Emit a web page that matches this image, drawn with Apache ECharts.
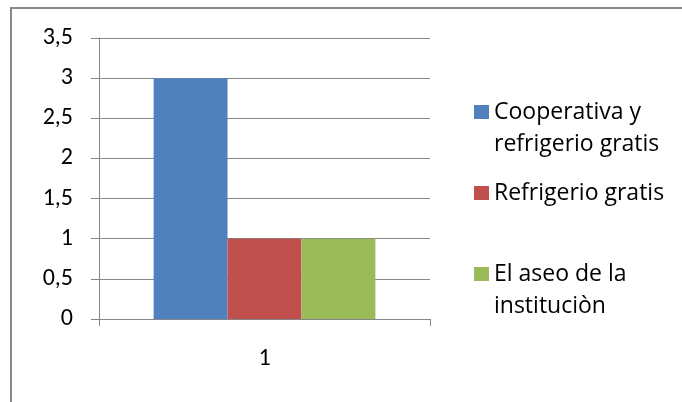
<!DOCTYPE html>
<html>
<head>
<meta charset="utf-8">
<script src="https://cdn.jsdelivr.net/npm/echarts@6/dist/echarts.min.js"></script>
<style>
  html, body { margin: 0; padding: 0; background: #fff; }
  #chart { width: 682px; height: 402px; }
</style>
</head>
<body>
<div id="chart"></div>
<script>
// datos de la gráfica
var categories = ["1"];
var seriesNames = ["Cooperativa y refrigerio gratis", "Refrigerio gratis", "El aseo de la instituciòn"];
var seriesValues = [[3], [1], [1]];
var legendLabels = ["\nCooperativa y\nrefrigerio gratis", "Refrigerio gratis", "\nEl aseo de la\ninstituciòn"];
var colors = ["#4F81BD", "#C0504D", "#9BBB59"];

var font = "Carlito, Calibri, Lato, sans-serif";
var legendFont = "'Open Sans', sans-serif";
var gray = "#868686";

var chart = echarts.init(document.getElementById("chart"));

// una leyenda por serie, para colocarlas como en el original
var legendTops = [64, 177, 226];
var legends = seriesNames.map(function (name, i) {
  return {
    data: [name],
    orient: "vertical",
    left: 474,
    top: legendTops[i],
    padding: 0,
    itemWidth: 15,
    itemHeight: 14,
    icon: "rect",
    formatter: function () { return legendLabels[i]; },
    textStyle: { fontFamily: legendFont, fontSize: 23, color: "#000", lineHeight: 32 },
    selectedMode: false
  };
});

chart.setOption({
  animation: false,
  color: colors,
  graphic: [{
    type: "rect",
    shape: { x: 11, y: 8, width: 700, height: 420 },
    style: { fill: null, stroke: "#898989", lineWidth: 2 },
    silent: true
  }],
  legend: legends,
  grid: { left: 99, right: 252, top: 38, bottom: 83 },
  xAxis: {
    type: "category",
    data: categories,
    axisLine: { lineStyle: { color: gray, width: 1 } },
    axisTick: { show: true, length: 7, lineStyle: { color: gray } },
    axisLabel: { margin: 28, fontFamily: font, fontSize: 24, color: "#000" }
  },
  yAxis: {
    type: "value",
    min: 0,
    max: 3.5,
    interval: 0.5,
    axisLine: { show: true, lineStyle: { color: gray, width: 1 } },
    axisTick: { show: true, length: 8, lineStyle: { color: gray } },
    splitLine: { lineStyle: { color: gray, width: 1 } },
    axisLabel: {
      margin: 26,
      fontFamily: font,
      fontSize: 24,
      color: "#000",
      formatter: function (v) { return String(v).replace(".", ","); }
    }
  },
  series: seriesNames.map(function (name, i) {
    return {
      name: name,
      type: "bar",
      data: seriesValues[i],
      barGap: "0%",
      barCategoryGap: "33%"
    };
  })
});
</script>
</body>
</html>
